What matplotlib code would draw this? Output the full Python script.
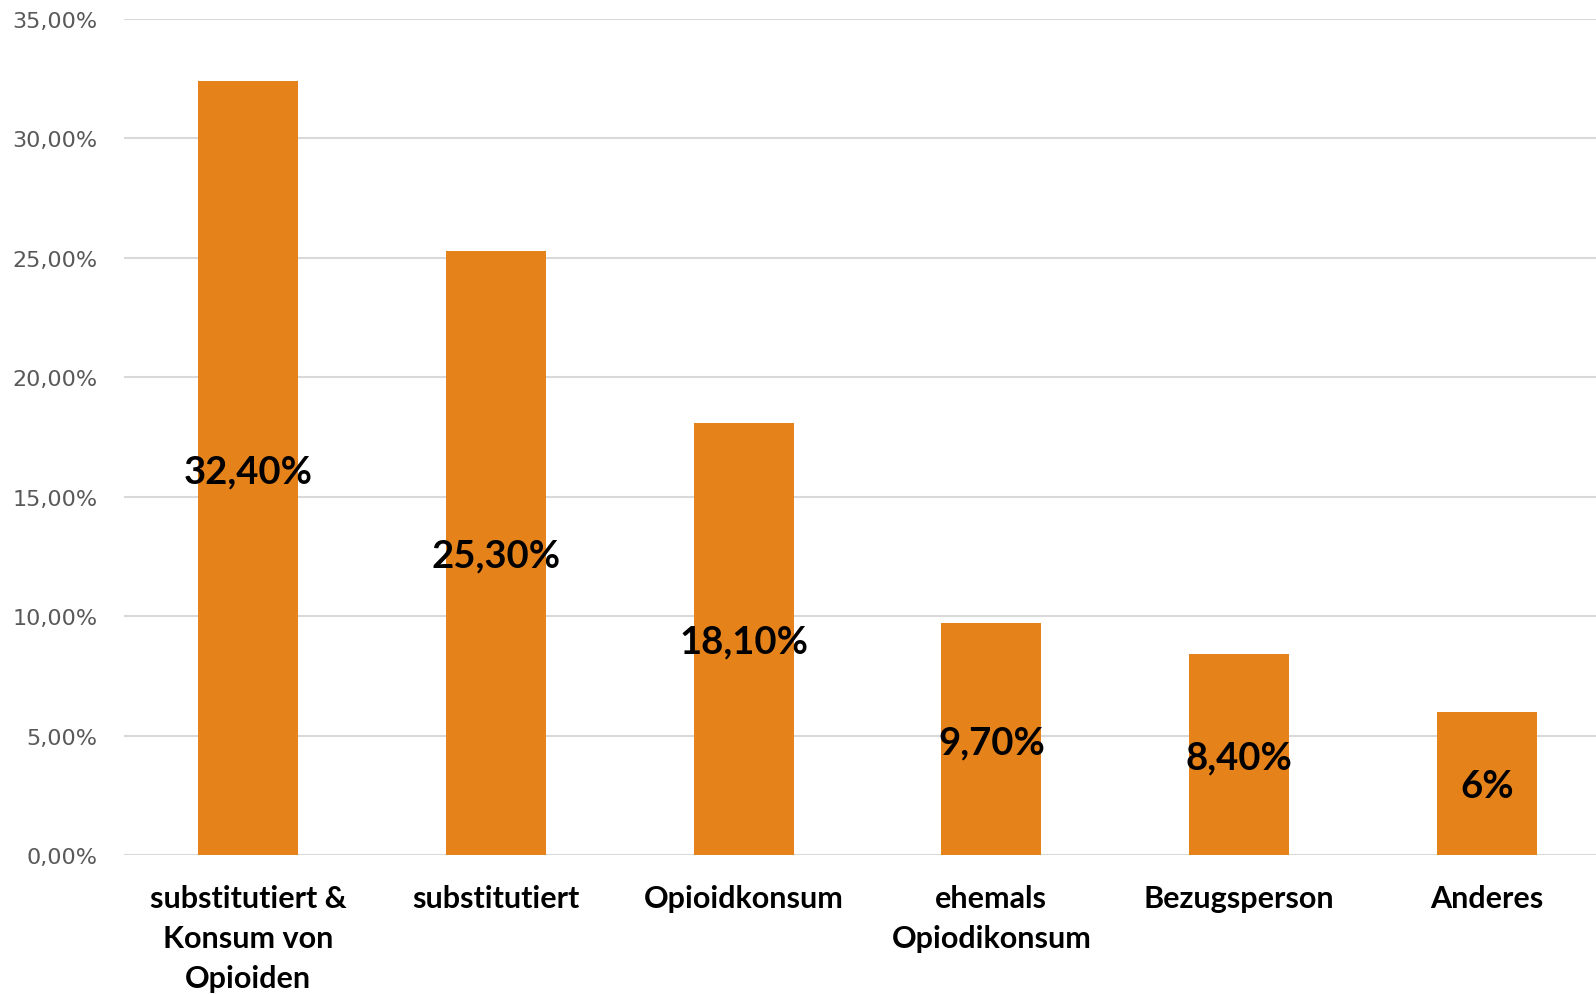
import matplotlib
matplotlib.use("Agg")
import matplotlib.pyplot as plt
from matplotlib.ticker import FuncFormatter

categories = [
    "substitutiert &\nKonsum von\nOpioiden",
    "substitutiert",
    "Opioidkonsum",
    "ehemals\nOpiodikonsum",
    "Bezugsperson",
    "Anderes",
]
values = [32.4, 25.3, 18.1, 9.7, 8.4, 6.0]
value_labels = ["32,40%", "25,30%", "18,10%", "9,70%", "8,40%", "6%"]
yticks = [0, 5, 10, 15, 20, 25, 30, 35]

bar_color = "#E5821A"
grid_color = "#D9D9D9"

fig = plt.figure(figsize=(15.96, 9.95), dpi=100, facecolor="white")
# plot area runs slightly past the right edge of the canvas
ax = fig.add_axes([0.0777, 0.1397, 0.9317, 0.8403])

x = list(range(len(categories)))
bars = ax.bar(x, values, width=0.403, color=bar_color, zorder=2)

# value labels centred inside each bar
for b, lab in zip(bars, value_labels):
    ax.text(b.get_x() + b.get_width() / 2, b.get_height() / 2, lab,
            ha="center", va="center_baseline", fontsize=27.5, fontweight="bold",
            family=["Lato", "DejaVu Sans"], color="black", zorder=3)

ax.set_xlim(-0.5, len(categories) - 0.5)
ax.set_ylim(0, 35)
ax.set_yticks(yticks)
ax.yaxis.set_major_formatter(FuncFormatter(lambda v, _: f"{v:.2f}%".replace(".", ",")))
ax.grid(axis="y", color=grid_color, linewidth=1.5, zorder=0)
ax.set_axisbelow(True)

for s in ax.spines.values():
    s.set_visible(False)

ax.tick_params(axis="y", length=0, pad=19, labelsize=16, labelcolor="#595959")
ax.tick_params(axis="x", length=0, pad=21)
ax.set_xticks(x)
ax.set_xticklabels(categories, fontsize=22, fontweight="bold",
                   family=["Lato", "DejaVu Sans"], linespacing=1.52)

fig.savefig("out.png", dpi=100, facecolor="white")
